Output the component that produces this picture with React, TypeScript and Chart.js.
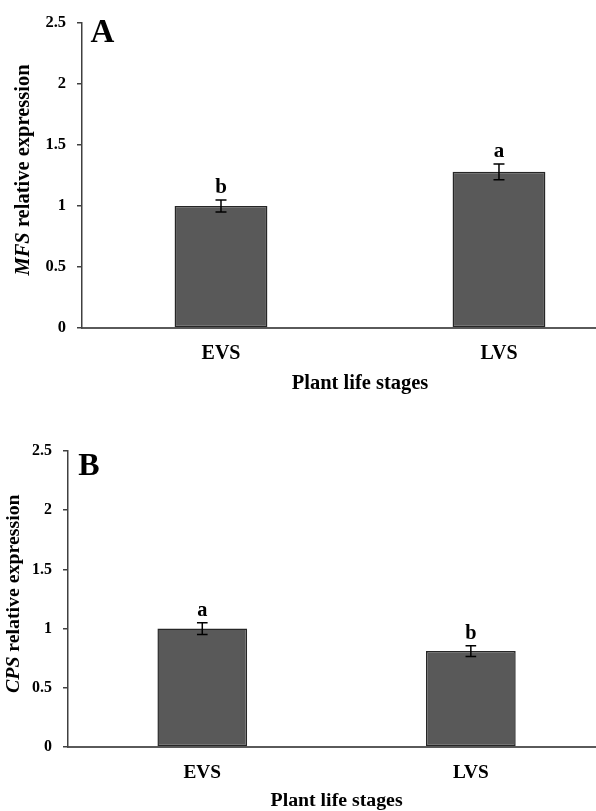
import React, { useEffect, useRef } from 'react';
import { Chart, registerables } from 'chart.js';

Chart.register(...registerables);

// ---- data ----
const categories = ['EVS', 'LVS'];
const yTickValues = [0, 0.5, 1, 1.5, 2, 2.5];
const xAxisTitle = 'Plant life stages';

const mfsValues = [1.0, 1.28];
const mfsErrors = [0.05, 0.065];
const mfsLetters = ['b', 'a'];

const cpsValues = [1.0, 0.81];
const cpsErrors = [0.05, 0.045];
const cpsLetters = ['a', 'b'];

const FONT = '"Liberation Serif", "Times New Roman", Times, serif';

type Panel = {
  id: string;
  gene: string;
  values: number[];
  errors: number[];
  letters: string[];
  top: number;
  height: number;
  padTop: number;
  yWidth: number;
  xHeight: number;
  xMax: number;
  f: number;
  yTitleX: number;
  panelDx: number;
  panelDy: number;
  panelSize: number;
};

const panels: Panel[] = [
  {
    id: 'A', gene: 'MFS', values: mfsValues, errors: mfsErrors, letters: mfsLetters,
    top: 0, height: 400, padTop: 23, yWidth: 82, xHeight: 72, xMax: 1.349, f: 1,
    yTitleX: 28.5, panelDx: 8.5, panelDy: 18.7, panelSize: 33,
  },
  {
    id: 'B', gene: 'CPS', values: cpsValues, errors: cpsErrors, letters: cpsLetters,
    top: 400, height: 411, padTop: 51, yWidth: 68, xHeight: 64, xMax: 1.466, f: 0.967,
    yTitleX: 19, panelDx: 10.3, panelDy: 24, panelSize: 32,
  },
];

function makeOverlay(p: Panel) {
  return {
    id: 'overlay' + p.id,
    afterDatasetsDraw(chart: any) {
      const ctx = chart.ctx;
      const xs = chart.scales.x;
      const ys = chart.scales.y;
      ctx.save();
      // error bars
      ctx.strokeStyle = '#000';
      ctx.lineWidth = 1.5;
      const cap = 5.5 * p.f;
      p.values.forEach((v, i) => {
        const x = xs.getPixelForValue(i);
        const yt = ys.getPixelForValue(v + p.errors[i]);
        const yb = ys.getPixelForValue(v - p.errors[i]);
        ctx.beginPath();
        ctx.moveTo(x, yt);
        ctx.lineTo(x, yb);
        ctx.moveTo(x - cap, yt);
        ctx.lineTo(x + cap, yt);
        ctx.moveTo(x - cap, yb);
        ctx.lineTo(x + cap, yb);
        ctx.stroke();
        // significance letters
        ctx.fillStyle = '#000';
        ctx.font = `bold ${21 * p.f}px ${FONT}`;
        ctx.textAlign = 'center';
        ctx.textBaseline = 'alphabetic';
        ctx.fillText(p.letters[i], x, yt - 7 * p.f);
      });
      ctx.restore();
    },
    afterDraw(chart: any) {
      const ctx = chart.ctx;
      const area = chart.chartArea;
      const xs = chart.scales.x;
      ctx.save();
      ctx.fillStyle = '#000';
      // x axis title centered between categories
      ctx.font = `bold ${20.5 * p.f}px ${FONT}`;
      ctx.textAlign = 'center';
      ctx.textBaseline = 'alphabetic';
      ctx.fillText(xAxisTitle, xs.getPixelForValue((categories.length - 1) / 2), area.bottom + 61 * p.f);

      // y axis title with italic gene name
      const size = 20.5 * p.f;
      const italicFont = `italic bold ${size}px ${FONT}`;
      const boldFont = `bold ${size}px ${FONT}`;
      const rest = ' relative expression';
      ctx.font = italicFont;
      const w1 = ctx.measureText(p.gene).width;
      ctx.font = boldFont;
      const w2 = ctx.measureText(rest).width;
      const total = w1 + w2;
      const cy = (area.top + area.bottom) / 2 - 5.5 * p.f;
      ctx.translate(p.yTitleX, cy);
      ctx.rotate(-Math.PI / 2);
      ctx.textAlign = 'left';
      ctx.font = italicFont;
      ctx.fillText(p.gene, -total / 2, 0);
      ctx.font = boldFont;
      ctx.fillText(rest, -total / 2 + w1, 0);
      ctx.setTransform(1, 0, 0, 1, 0, 0);

      // panel letter
      ctx.font = `bold ${p.panelSize}px ${FONT}`;
      ctx.textAlign = 'left';
      ctx.fillText(p.id, area.left + p.panelDx, area.top + p.panelDy);
      ctx.restore();
    },
  };
}

function PanelChart({ p }: { p: Panel }) {
  const ref = useRef<HTMLCanvasElement | null>(null);
  useEffect(() => {
    if (!ref.current) return;
    const chart = new Chart(ref.current, {
      type: 'bar',
      data: {
        datasets: [
          {
            data: p.values.map((v, i) => ({ x: i, y: v })),
            backgroundColor: '#595959',
            borderColor: '#262626',
            borderWidth: 1.5,
            borderSkipped: false,
            barPercentage: 0.334,
            categoryPercentage: 1,
          } as any,
        ],
      },
      options: {
        animation: false,
        responsive: false,
        maintainAspectRatio: false,
        layout: { padding: { top: p.padTop, left: 0, right: 0, bottom: 0 } },
        plugins: { legend: { display: false }, tooltip: { enabled: false } },
        scales: {
          x: {
            type: 'linear',
            min: -0.5,
            max: p.xMax,
            offset: false,
            grid: { display: false, drawTicks: false },
            border: { display: true, color: '#5a5a5a', width: 2 },
            afterBuildTicks: (s: any) => {
              s.ticks = categories.map((_, i) => ({ value: i }));
            },
            afterFit: (s: any) => {
              s.height = p.xHeight;
            },
            ticks: {
              callback: (v: any) => categories[v as number] ?? '',
              padding: 14,
              color: '#000',
              maxRotation: 0,
              autoSkip: false,
              font: { family: FONT, size: 20 * p.f, weight: 'bold' },
            },
          },
          y: {
            min: 0,
            max: 2.5,
            afterBuildTicks: (s: any) => {
              s.ticks = yTickValues.map((v) => ({ value: v }));
            },
            afterFit: (s: any) => {
              s.width = p.yWidth;
            },
            grid: {
              display: true,
              drawOnChartArea: false,
              drawTicks: true,
              tickLength: 5,
              color: '#404040',
              lineWidth: 1.5,
            },
            border: { display: true, color: '#404040', width: 1.5 },
            ticks: {
              callback: (v: any) => String(v),
              padding: 11,
              color: '#000',
              font: { family: FONT, size: 16.5 * p.f, weight: 'bold' },
            },
          },
        },
      } as any,
      plugins: [makeOverlay(p)],
    });
    return () => chart.destroy();
  }, [p]);
  return (
    <canvas
      ref={ref}
      width={596}
      height={p.height}
      style={{ position: 'absolute', left: 0, top: p.top, width: 596, height: p.height, display: 'block' }}
    />
  );
}

export default function App() {
  return (
    <div style={{ position: 'absolute', left: 0, top: 0, width: 596, height: 811, background: '#fff' }}>
      {panels.map((p) => (
        <PanelChart key={p.id} p={p} />
      ))}
    </div>
  );
}
